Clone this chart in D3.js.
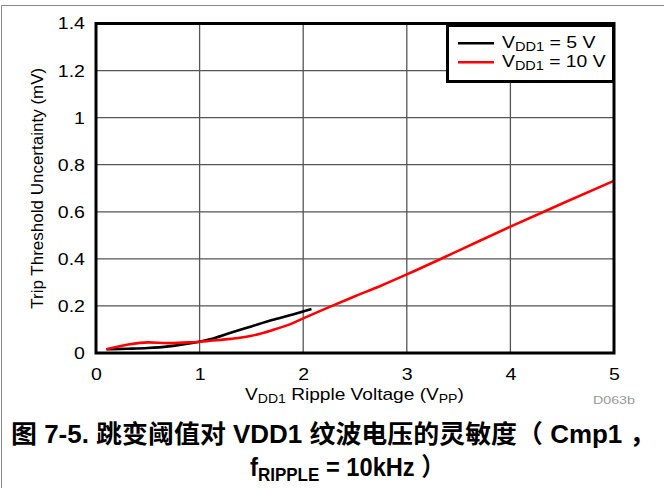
<!DOCTYPE html>
<html>
<head>
<meta charset="utf-8">
<script src="https://cdn.jsdelivr.net/npm/d3@7"></script>
<style>
  body { margin: 0; background: #fff; }
  svg { font-family: "Liberation Sans", Arial, sans-serif; }
</style>
</head>
<body>
<script>
const xTicks = [0, 1, 2, 3, 4, 5]
const yTicks = [0, 0.2, 0.4, 0.6, 0.8, 1, 1.2, 1.4]

// VDD1 = 5 V
const x5 = [0.1, 0.3, 0.5, 0.7, 0.9, 1.0, 1.1, 1.3, 1.5, 1.7, 1.9, 2.08]
const y5 = [0.016, 0.018, 0.021, 0.028, 0.041, 0.048, 0.058, 0.086, 0.113, 0.14, 0.164, 0.187]

// VDD1 = 10 V
const x10 = [0.1, 0.3, 0.5, 0.7, 0.9, 1.0, 1.1, 1.3, 1.5, 1.7, 1.9, 2.0, 2.25, 2.5, 2.75, 3, 3.5, 4, 4.5, 5]
const y10 = [0.016, 0.035, 0.045, 0.042, 0.045, 0.048, 0.052, 0.060, 0.073, 0.097, 0.127, 0.147, 0.195, 0.241, 0.286, 0.334, 0.435, 0.537, 0.635, 0.732]

const series = [
    { name: "5 V", color: "#000", pts: x5.map((x, i) => ({ x, y: y5[i] })) },
    { name: "10 V", color: "#ff0000", pts: x10.map((x, i) => ({ x, y: y10[i] })) }
]

const svg = d3.select("body").append("svg")
    .attr("width", 664)
    .attr("height", 488)

// stretch a text horizontally so it spans [x0, x0 + w]
function fit(t, x0, w) {
    t.attr("x", 0).attr("text-anchor", "start")
    const bw = t.node().getBBox().width
    t.attr("transform", `translate(${x0},0) scale(${w / bw},1)`)
}

// outer frame
svg.append("path")
    .attr("d", "M1.5,488V5.5H664")
    .attr("fill", "none")
    .attr("stroke", "#888")
    .attr("stroke-width", 1)

const pLeft = 96, pRight = 614, pTop = 23.5, pBottom = 353

const x = d3.scaleLinear().domain([0, 5]).range([pLeft, pRight])
const y = d3.scaleLinear().domain([0, 1.4]).range([pBottom, pTop])

// grid
svg.append("g")
    .selectAll("line")
    .data(xTicks.slice(1, -1))
    .join("line")
    .attr("x1", d => x(d)).attr("x2", d => x(d))
    .attr("y1", pTop).attr("y2", pBottom)
    .attr("stroke", "#555").attr("stroke-width", 1.3)
svg.append("g")
    .selectAll("line")
    .data(yTicks.slice(1, -1))
    .join("line")
    .attr("y1", d => y(d)).attr("y2", d => y(d))
    .attr("x1", pLeft).attr("x2", pRight)
    .attr("stroke", "#555").attr("stroke-width", 1.3)

// axes (labels only)
const xAxis = svg.append("g")
    .attr("transform", `translate(0,${pBottom})`)
    .call(d3.axisBottom(x).tickValues(xTicks).tickFormat(d3.format("")).tickSize(0).tickPadding(15))
const yAxis = svg.append("g")
    .attr("transform", `translate(${pLeft},0)`)
    .call(d3.axisLeft(y).tickValues(yTicks).tickFormat(d3.format("")).tickSize(0))
for (const a of [xAxis, yAxis]) {
    a.select(".domain").remove()
    a.selectAll("text").attr("font-size", 17).attr("fill", "#000")
        .attr("font-family", "Liberation Sans, Arial, sans-serif")
        .attr("transform", "scale(1.15,1)")
}
yAxis.selectAll("text").attr("x", -9.6)

// lines
const line = d3.line()
    .x(d => x(d.x))
    .y(d => y(d.y))
    .curve(d3.curveMonotoneX)

svg.append("g")
    .selectAll("path")
    .data(series)
    .join("path")
    .attr("d", d => line(d.pts))
    .attr("fill", "none")
    .attr("stroke", d => d.color)
    .attr("stroke-width", 2.6)

// plot frame
svg.append("rect")
    .attr("x", pLeft).attr("y", pTop)
    .attr("width", pRight - pLeft).attr("height", pBottom - pTop)
    .attr("fill", "none")
    .attr("stroke", "#000")
    .attr("stroke-width", 3)

// legend
const lg = svg.append("g")
lg.append("rect")
    .attr("x", 447.5).attr("y", 25.5)
    .attr("width", 166).attr("height", 56)
    .attr("fill", "#fff")
    .attr("stroke", "#000")
    .attr("stroke-width", 3)
const legendW = [94, 104]
series.forEach((s, i) => {
    const ly = 43.3 + i * 19
    lg.append("line")
        .attr("x1", 458).attr("x2", 494)
        .attr("y1", ly).attr("y2", ly)
        .attr("stroke", s.color).attr("stroke-width", 2.6)
    const t = lg.append("text")
        .attr("y", ly + 4.5)
        .attr("font-size", 16)
    t.append("tspan").text("V")
    t.append("tspan").text("DD1").attr("font-size", 12).attr("dy", 3)
    t.append("tspan").text(" = " + s.name).attr("dy", -3)
    fit(t, 502, legendW[i])
})

// axis titles
const xt = svg.append("text")
    .attr("y", 400)
    .attr("font-size", 17)
xt.append("tspan").text("V")
xt.append("tspan").text("DD1").attr("font-size", 12.5).attr("dy", 3)
xt.append("tspan").text(" Ripple Voltage (V").attr("dy", -3)
xt.append("tspan").text("PP").attr("font-size", 12.5).attr("dy", 3)
xt.append("tspan").text(")").attr("dy", -3)
fit(xt, 245, 219)

svg.append("text")
    .attr("transform", `translate(43,${(pTop + pBottom) / 2}) rotate(-90)`)
    .attr("text-anchor", "middle")
    .attr("font-size", 17)
    .text("Trip Threshold Uncertainty (mV)")

const code = svg.append("text")
    .attr("y", 404)
    .attr("font-size", 11)
    .attr("fill", "#999")
    .text("D063b")
fit(code, 593, 42)

// caption
const cap = svg.append("g")
    .attr("font-family", "Liberation Sans, 'Noto Sans CJK SC', sans-serif")
    .attr("font-weight", "bold")
    .attr("font-size", 25)
const c1 = cap.append("text")
    .attr("y", 443)
    .text("图 7-5. 跳变阈值对 VDD1 纹波电压的灵敏度（ Cmp1 ，")
fit(c1, 11, 645)
const c2 = cap.append("text")
    .attr("y", 476)
c2.append("tspan").text("f")
c2.append("tspan").text("RIPPLE").attr("font-size", 18).attr("dy", 5)
c2.append("tspan").text(" = 10kHz ）").attr("dy", -5)
fit(c2, 250, 195)
</script>
</body>
</html>
